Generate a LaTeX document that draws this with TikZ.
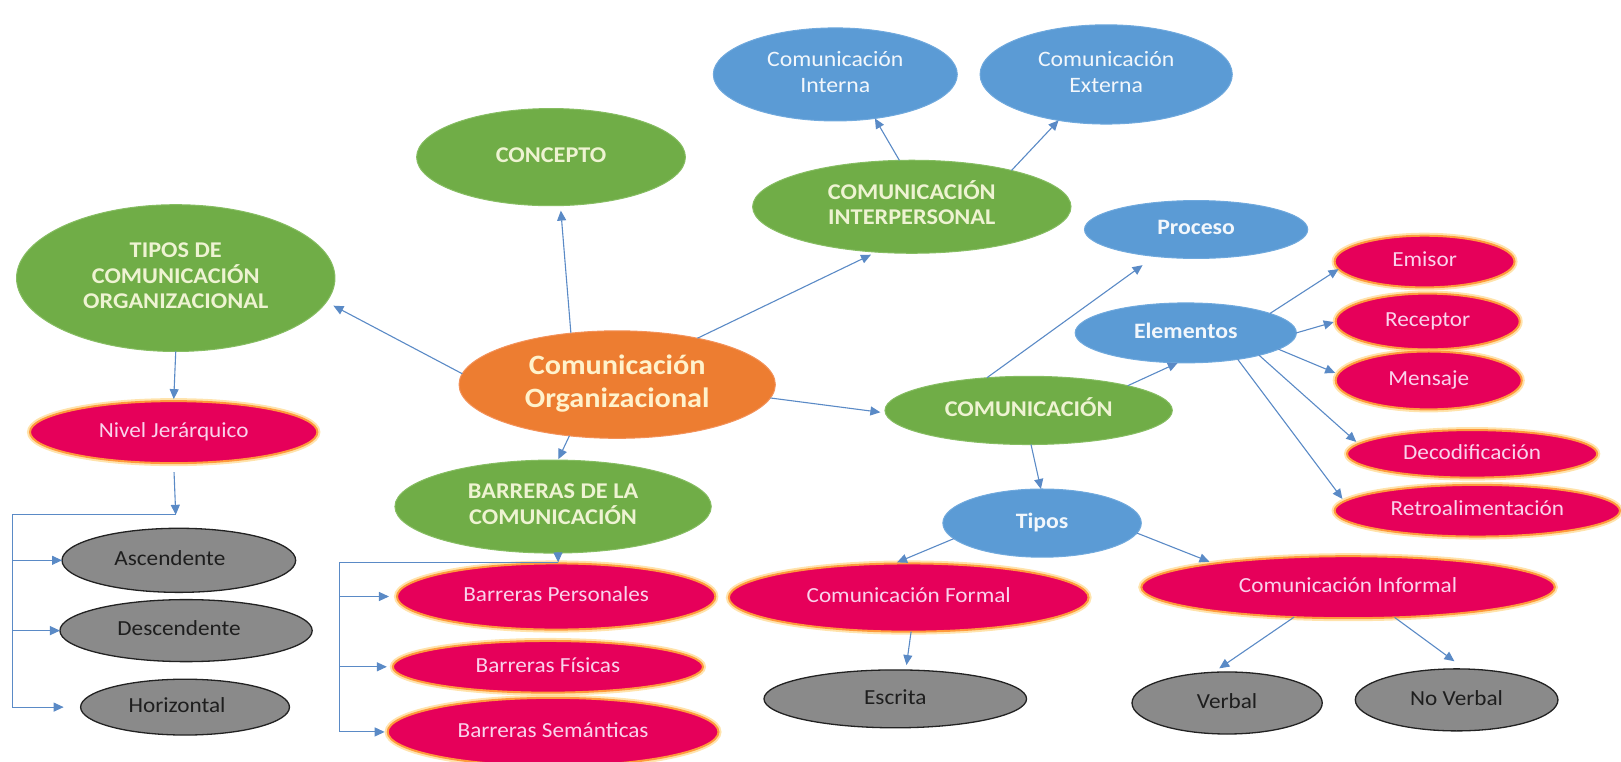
\documentclass[tikz,border=0pt]{standalone}
\usepackage{fontspec}
\setmainfont[FakeStretch=1.08]{Carlito}
\usetikzlibrary{arrows.meta,shapes.geometric}

\definecolor{grn}{HTML}{70AD47}
\definecolor{grnedge}{HTML}{86BD62}
\definecolor{grntxt}{HTML}{EEF3D2}
\definecolor{blu}{HTML}{5B9BD5}
\definecolor{bluedge}{HTML}{70A9DD}
\definecolor{blutxt}{HTML}{F2F7FC}
\definecolor{orng}{HTML}{ED7D31}
\definecolor{orngedge}{HTML}{F3925A}
\definecolor{orngtxt}{HTML}{FFF2CC}
\definecolor{pnk}{HTML}{E6005A}
\definecolor{pnkedge}{HTML}{FF9A3C}
\definecolor{pnkglow}{HTML}{FFC85A}
\definecolor{pnktxt}{HTML}{FAD2EC}
\definecolor{gry}{HTML}{8A8A8A}
\definecolor{gryedge}{HTML}{222222}
\definecolor{grytxt}{HTML}{1E1E1E}
\definecolor{lnk}{HTML}{5A8AC6}

% label text centred in a zero-width box, so the ellipse size comes from the style
\newcommand{\lbl}[1]{\makebox[0pt]{\begin{tabular}{@{}c@{}}#1\end{tabular}}}
% same, with the text moved sideways by half of #1
\newcommand{\lbls}[2]{\makebox[0pt]{\hspace*{#1}\begin{tabular}{@{}c@{}}#2\end{tabular}}}

\begin{document}
\begin{tikzpicture}[x=1.0338pt,y=-1.0338pt,
  nbase/.style={ellipse, inner sep=0pt, outer sep=0pt},
  sz/.style 2 args={minimum width=#1*2.0676pt, minimum height=#2*2.0676pt},
  greennode/.style={nbase, fill=grn, draw=grnedge, line width=1pt, text=grntxt,
    font=\bfseries\fontsize{22.5}{25}\selectfont},
  bluenode/.style={nbase, fill=blu, draw=bluedge, line width=1pt, text=blutxt,
    font=\fontsize{22}{26}\selectfont},
  bluebold/.style={bluenode, font=\bfseries\fontsize{22}{26}\selectfont},
  orangenode/.style={nbase, fill=orng, draw=orngedge, line width=1pt, text=orngtxt,
    font=\bfseries\fontsize{28}{33}\selectfont},
  pinknode/.style={nbase, fill=pnk, draw=pnkedge, line width=2pt, text=pnktxt,
    preaction={draw=pnkglow, line width=6pt, draw opacity=.5},
    font=\fontsize{21.5}{26}\selectfont},
  graynode/.style={nbase, fill=gry, draw=gryedge, line width=1.3pt, text=grytxt,
    font=\fontsize{21.5}{26}\selectfont},
  conn/.style={draw=lnk, line width=1.1pt, -{Triangle[length=10pt,width=9pt]}},
  plain/.style={draw=lnk, line width=1.1pt}
]
\useasboundingbox (0,0) rectangle (1568,737);

% ---- nodes ----
\node[greennode, sz={130}{47}] (concepto) at (533,152) {\lbl{CONCEPTO}};
\node[bluenode, sz={118}{45}] (interna) at (808,72) {\lbl{Comunicación\\Interna}};
\node[bluenode, sz={122}{48}] (externa) at (1070,72) {\lbl{Comunicación\\Externa}};
\node[greennode, sz={154}{45}] (interp) at (882,200) {\lbl{COMUNICACIÓN\\INTERPERSONAL}};
\node[greennode, sz={154}{71}] (tipos) at (170,269) {\lbl{TIPOS DE\\COMUNICACIÓN\\ORGANIZACIONAL}};
\node[bluebold, sz={108}{28}] (proceso) at (1157,222) {\lbl{Proceso}};
\node[bluebold, sz={107}{29}] (elementos) at (1147,322) {\lbl{Elementos}};
\node[pinknode, sz={87}{25}] (emisor) at (1378,253) {\lbl{Emisor}};
\node[pinknode, sz={89}{27}] (receptor) at (1381,311) {\lbl{Receptor}};
\node[pinknode, sz={90}{28}] (mensaje) at (1382,368) {\lbl{Mensaje}};
\node[pinknode, sz={121}{23}] (decod) at (1424,439) {\lbl{Decodificación}};
\node[pinknode, sz={138}{25}] (retro) at (1429,494) {\lbl{Retroalimentación}};
\node[orangenode, sz={153}{52}] (org) at (597,372) {\lbl{Comunicación\\Organizacional}};
\node[greennode, sz={139}{33}] (comun) at (995,397) {\lbl{COMUNICACIÓN}};
\node[pinknode, sz={139}{30}] (nivel) at (168,418) {\lbl{Nivel Jerárquico}};
\node[greennode, sz={153}{45}] (barreras) at (535,490) {\lbl{BARRERAS DE LA\\COMUNICACIÓN}};
\node[bluebold, sz={96}{33}] (tiposb) at (1008,506) {\lbl{Tipos}};
\node[pinknode, sz={174}{33}] (formal) at (879,578) {\lbl{Comunicación Formal}};
\node[pinknode, sz={200}{30}] (informal) at (1304,568) {\lbl{Comunicación Informal}};
\node[graynode, sz={113}{31}] (asc) at (173,542) {\lbls{-18pt}{Ascendente}};
\node[graynode, sz={122}{30}] (desc) at (180,610) {\lbls{-14pt}{Descendente}};
\node[graynode, sz={101}{27}] (horiz) at (179,684) {\lbls{-16pt}{Horizontal}};
\node[pinknode, sz={154}{32}] (bper) at (538,577) {\lbl{Barreras Personales}};
\node[pinknode, sz={150}{25}] (bfis) at (530,645) {\lbl{Barreras Físicas}};
\node[pinknode, sz={160}{33}] (bsem) at (535,708) {\lbl{Barreras Semánticas}};
\node[graynode, sz={127}{28}] (escrita) at (866,676) {\lbl{Escrita}};
\node[graynode, sz={92}{30}] (verbal) at (1187,680) {\lbl{Verbal}};
\node[graynode, sz={98}{30}] (noverbal) at (1409,677) {\lbl{No Verbal}};

% ---- connectors from the central node ----
\draw[conn, shorten >=8pt] (org.176) -- (tipos.-9);
\draw[conn, shorten >=5pt] (org.132) -- (concepto.-79);
\draw[conn, shorten >=6pt] (org.30) -- (interp.-128);
\draw[conn, shorten >=5pt] (org.-5) -- (comun.181);
\draw[conn, shorten >=1pt] (org.227) -- (barreras.84);

% ---- interpersonal communication ----
\draw[conn] (interp.105) -- (interna.-48);
\draw[conn] (interp.20) -- (externa.-136);

% ---- communication branch ----
\draw[conn, shorten >=15pt] (comun.142) -- (proceso.-147);
\draw[conn] (comun.14) -- (elementos.-105);
\draw[conn] (comun.-86) -- (tiposb.92);
\draw[conn] (elementos.13) -- (emisor.185);
\draw[conn, shorten >=2pt] (elementos.0) -- (receptor.180);
\draw[conn, shorten >=3pt] (elementos.-10) -- (mensaje.176);
\draw[conn, shorten >=3pt] (elementos.-17) -- (decod.175);
\draw[conn, shorten >=3pt] (elementos.-27) -- (retro.176);
\draw[conn, shorten >=3pt] (tiposb.190) -- (formal.113);
\draw[conn, shorten >=5pt] (tiposb.-6) -- (informal.170);
\draw[conn, shorten >=5pt] (formal.-86) -- (escrita.70);
\draw[conn, shorten >=7pt] (informal.209) -- (verbal.114);
\draw[conn, shorten >=13pt] (informal.-33) -- (noverbal.75);

% ---- types of organisational communication ----
\draw[conn, shorten >=2pt] (tipos.south) -- (nivel.north);
\coordinate (nj) at (170,498);
\coordinate (nl) at (12,498);
\draw[conn, shorten <=9pt] (nivel.south) -- (nj);
\draw[plain] (nj) -- (nl) -- (nl |- horiz.west);
\draw[conn] (nl |- asc.west) -- (asc.west);
\draw[conn] (nl |- desc.west) -- (desc.west);
\draw[conn, shorten >=17pt] (nl |- horiz.west) -- (horiz.west);

% ---- communication barriers ----
\coordinate (bj) at (540,544);
\coordinate (bl) at (328,544);
\draw[conn] (barreras.-84) -- (bj);
\draw[plain] (bj) -- (bl) -- (bl |- bsem.west);
\draw[conn, shorten >=8pt] (bl |- bper.west) -- (bper.west);
\draw[conn, shorten >=6pt] (bl |- bfis.west) -- (bfis.west);
\draw[conn, shorten >=3pt] (bl |- bsem.west) -- (bsem.west);
\end{tikzpicture}
\end{document}
